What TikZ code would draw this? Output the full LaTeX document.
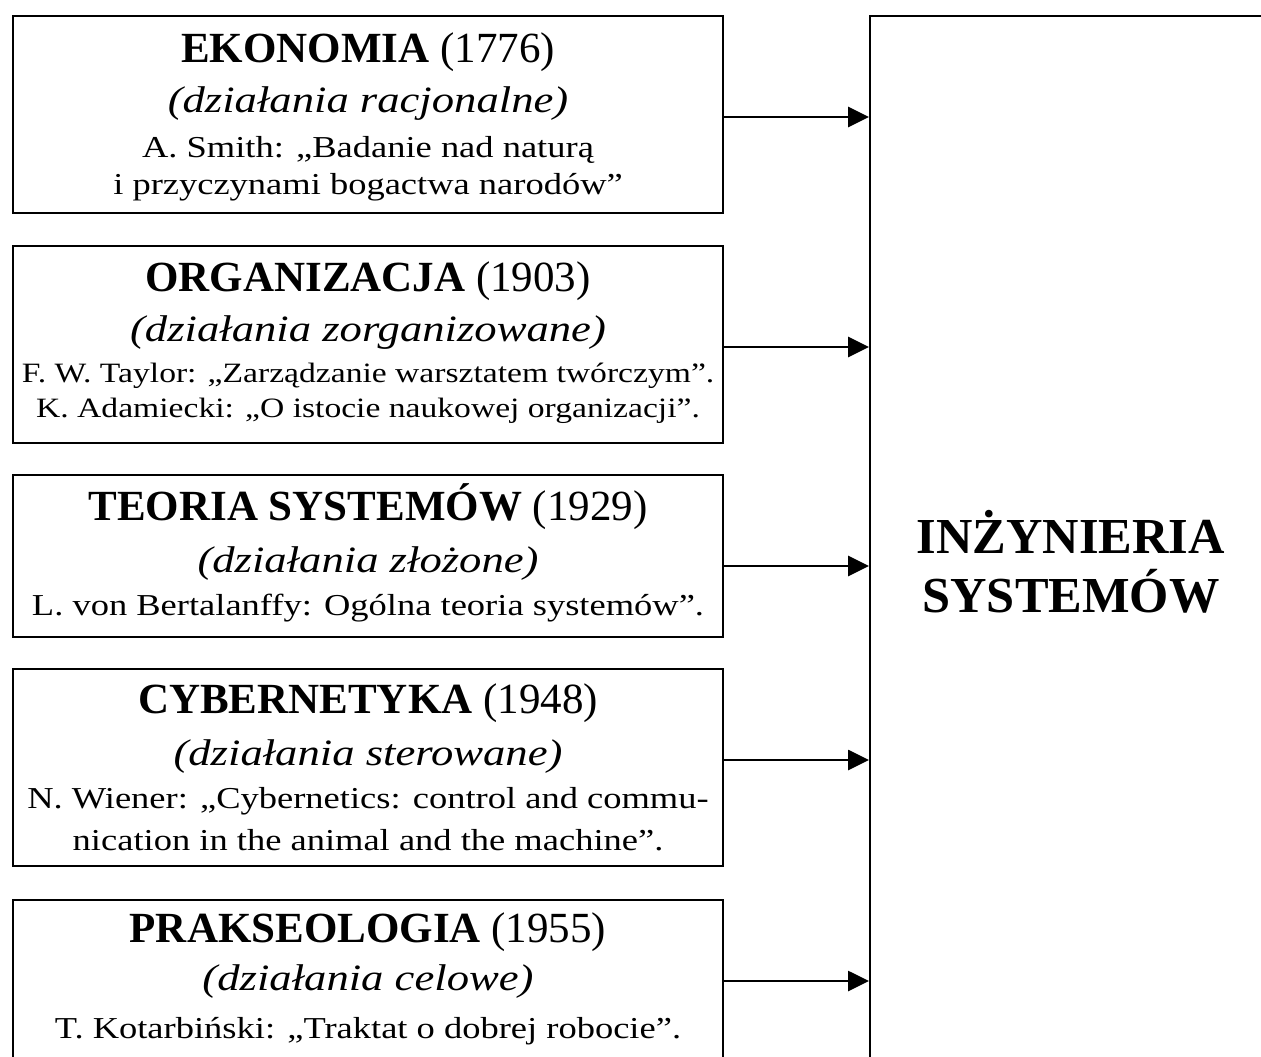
\documentclass[tikz,border=0pt]{standalone}
\usepackage{fontspec}
\setmainfont{Liberation Serif}
\newfontfamily\widefont[FakeStretch=1.2]{Liberation Serif}
\usetikzlibrary{arrows.meta}
\begin{document}
\begin{tikzpicture}[x=0.5pt,y=-0.5pt,inner sep=0pt,
  box/.style={draw,line width=1.2pt,rectangle,minimum width=355pt},
  head/.style={anchor=base,font=\fontsize{21.5}{24}\selectfont\bfseries},
  kind/.style={anchor=base,font=\widefont\fontsize{18.6}{22}\selectfont\itshape},
  work/.style={anchor=base,font=\widefont\fontsize{15.2}{18}\selectfont},
  worksm/.style={anchor=base,font=\widefont\fontsize{14}{17}\selectfont},
  big/.style={anchor=base,font=\fontsize{25.2}{28}\selectfont\bfseries},
  feed/.style={line width=1.4pt,-{Triangle[length=10.5pt,width=10pt]}}]
\useasboundingbox (0,0) rectangle (1261,1056);
\fill[white] (0,0) rectangle (1261,1056);
\clip (0,0) rectangle (1261,1056);

% source disciplines
\node[box,minimum height=98.5pt] (eko) at (368,114.5) {};
\node[box,minimum height=98.5pt] (org) at (368,344.5) {};
\node[box,minimum height=81pt]   (teo) at (368,556) {};
\node[box,minimum height=98.5pt] (cyb) at (368,767.5) {};
\node[box,minimum height=81pt]   (pra) at (368,981) {};

% target: systems engineering
\node[box,minimum width=230pt,minimum height=560pt,anchor=north west] (sys) at (869,15) {};
\node[big] (sys-a) at (1071,553) {INŻYNIERIA};
\node[big] (sys-b) at (1071,612) {SYSTEMÓW};

% texts of the boxes
\node[head]   (eko-a) at (368,62)  {EKONOMIA \textmd{(1776)}};
\node[kind]   (eko-b) at (368,112) {(działania racjonalne)};
\node[work]   (eko-c) at (368,157) {A. Smith: „Badanie nad naturą};
\node[work]   (eko-d) at (368,194) {i przyczynami bogactwa narodów”};

\node[head]   (org-a) at (368,291) {ORGANIZACJA \textmd{(1903)}};
\node[kind]   (org-b) at (368,341) {(działania zorganizowane)};
\node[worksm] (org-c) at (368,382) {F. W. Taylor: „Zarządzanie warsztatem twórczym”.};
\node[worksm] (org-d) at (368,417) {K. Adamiecki: „O istocie naukowej organizacji”.};

\node[head]   (teo-a) at (368,520) {TEORIA SYSTEMÓW \textmd{(1929)}};
\node[kind]   (teo-b) at (368,572) {(działania złożone)};
\node[work]   (teo-c) at (368,615) {L. von Bertalanffy: Ogólna teoria systemów”.};

\node[head]   (cyb-a) at (368,713) {CYBERNETYKA \textmd{(1948)}};
\node[kind]   (cyb-b) at (368,765) {(działania sterowane)};
\node[work]   (cyb-c) at (368,808) {N. Wiener: „Cybernetics: control and commu-};
\node[work]   (cyb-d) at (368,850) {nication in the animal and the machine”.};

\node[head]   (pra-a) at (368,942) {PRAKSEOLOGIA \textmd{(1955)}};
\node[kind]   (pra-b) at (368,990) {(działania celowe)};
\node[work]   (pra-c) at (368,1038) {T. Kotarbiński: „Traktat o dobrej robocie”.};

% feeds into systems engineering
\draw[feed] ([yshift=-1.25pt]eko.east) -- ([yshift=-1.25pt]eko.east -| sys.west);
\draw[feed] ([yshift=-1.25pt]org.east) -- ([yshift=-1.25pt]org.east -| sys.west);
\draw[feed] ([yshift=-5pt]teo.east) -- ([yshift=-5pt]teo.east -| sys.west);
\draw[feed] ([yshift=3.75pt]cyb.east) -- ([yshift=3.75pt]cyb.east -| sys.west);
\draw[feed] (pra.east) -- (pra.east -| sys.west);
\end{tikzpicture}
\end{document}
